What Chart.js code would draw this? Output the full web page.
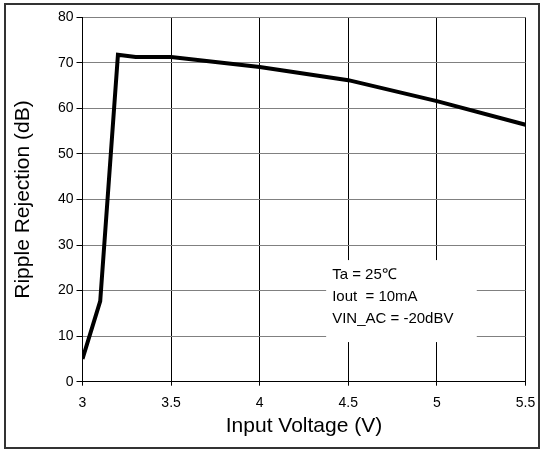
<!DOCTYPE html>
<html lang="en">
<head>
    <meta charset="UTF-8">
    <title>Ripple Rejection vs Input Voltage</title>
    <script src="https://cdn.jsdelivr.net/npm/chart.js"></script>
    <style>
        html, body { margin: 0; padding: 0; background: #fff; }
        #wrap { width: 541px; height: 450px; }
    </style>
</head>
<body>
<div id="wrap"><canvas id="rrChart" width="541" height="450"></canvas></div>

<script>
    // Data
    const inputVoltage = [3, 3.1, 3.2, 3.3, 3.5, 4, 4.5, 5, 5.5];
    const rippleRejection = [5, 17.7, 71.8, 71.3, 71.3, 69.1, 66.2, 61.6, 56.4];

    // Axis ticks
    const xTicks = [3, 3.5, 4, 4.5, 5, 5.5];
    const yTicks = [0, 10, 20, 30, 40, 50, 60, 70, 80];

    // Conditions note
    const noteLines = ['Ta = 25\u2103', 'Iout  = 10mA', 'VIN_AC = -20dBV'];

    const FONT = "'Liberation Sans', Arial, sans-serif";

    // outer frame + white note box over the grid
    const framePlugin = {
        id: 'frame',
        afterDraw(chart) {
            const ctx = chart.ctx;
            const xs = chart.scales.x, ys = chart.scales.y;
            ctx.save();
            // note box, placed in data units
            const bx1 = xs.getPixelForValue(4.375), bx2 = xs.getPixelForValue(5.225);
            const by1 = ys.getPixelForValue(26.7), by2 = ys.getPixelForValue(8.7);
            ctx.fillStyle = '#fff';
            ctx.fillRect(bx1, by1, bx2 - bx1, by2 - by1);
            ctx.fillStyle = '#000';
            ctx.font = '15px ' + FONT;
            ctx.textBaseline = 'middle';
            noteLines.forEach((t, i) => {
                ctx.fillText(t, bx1 + 6, by1 + 15 + i * 22);
            });
            // outer border
            ctx.strokeStyle = '#333';
            ctx.lineWidth = 2;
            ctx.strokeRect(5, 4, 534, 444);
            ctx.restore();
        }
    };

    const ctx = document.getElementById('rrChart').getContext('2d');
    new Chart(ctx, {
        type: 'scatter',
        data: {
            datasets: [{
                data: inputVoltage.map((v, i) => ({ x: v, y: rippleRejection[i] })),
                showLine: true,
                borderColor: '#000',
                borderWidth: 4,
                pointRadius: 0,
                tension: 0
            }]
        },
        options: {
            responsive: false,
            animation: false,
            layout: { padding: { left: 0, right: 15.5, top: 17.3, bottom: 0 } },
            plugins: {
                legend: { display: false },
                tooltip: { enabled: false }
            },
            scales: {
                x: {
                    type: 'linear',
                    min: 3,
                    max: 5.5,
                    afterBuildTicks: s => { s.ticks = xTicks.map(v => ({ value: v })); },
                    afterFit: s => { s.height = 68.3; s.paddingLeft = 0; s.paddingRight = 0; },
                    grid: { color: '#000', lineWidth: 1, tickLength: 4, tickColor: '#000' },
                    border: { color: '#000', width: 1 },
                    ticks: {
                        color: '#000', padding: 9, maxRotation: 0,
                        font: { family: FONT, size: 14 },
                        callback: v => String(v)
                    },
                    title: {
                        display: true,
                        text: 'Input Voltage (V)',
                        color: '#000',
                        font: { family: FONT, size: 21 },
                        padding: { top: 0, bottom: 11 }
                    }
                },
                y: {
                    min: 0,
                    max: 80,
                    afterBuildTicks: s => { s.ticks = yTicks.map(v => ({ value: v })); },
                    afterFit: s => { s.width = 82.5; s.paddingTop = 0; s.paddingBottom = 0; },
                    grid: { color: '#808080', lineWidth: 1, tickLength: 6, tickColor: '#000' },
                    border: { color: '#000', width: 1 },
                    ticks: { color: '#000', padding: 3, font: { family: FONT, size: 14 } },
                    title: {
                        display: true,
                        text: 'Ripple Rejection (dB)',
                        color: '#000',
                        font: { family: FONT, size: 21 },
                        padding: { top: 11, bottom: 0 }
                    }
                }
            }
        },
        plugins: [framePlugin]
    });
</script>
</body>
</html>
